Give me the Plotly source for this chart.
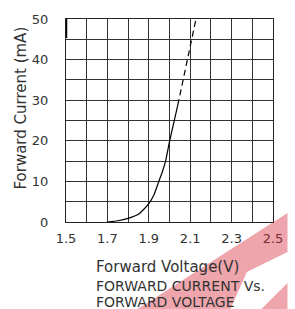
import plotly.graph_objects as go

# Data
volt_solid = [1.70, 1.75, 1.80, 1.85, 1.90, 1.925, 1.947, 1.965, 1.98, 2.00, 2.02, 2.04]
curr_solid = [0.0, 0.3, 0.9, 1.9, 4.5, 6.7, 9.8, 12.3, 14.8, 19.8, 24.3, 28.8]
volt_dash = [2.04, 2.128]
curr_dash = [28.8, 50.0]

x_tick_vals = [1.5, 1.6, 1.7, 1.8, 1.9, 2.0, 2.1, 2.2, 2.3, 2.4, 2.5]
x_tick_text = ["1.5", "", "1.7", "", "1.9", "", "2.1", "", "2.3", "", "2.5"]
y_tick_vals = [0, 5, 10, 15, 20, 25, 30, 35, 40, 45, 50]
y_tick_text = ["0", "", "10", "", "20", "", "30", "", "40", "", "50"]

W, H = 295, 309
L, R, T, B = 66, 15, 19, 87
pw, ph = W - L - R, H - T - B

def px(x, y):
    return (x - L) / pw, (H - B - y) / ph

fig = go.Figure()
fig.add_trace(go.Scatter(x=volt_solid, y=curr_solid, mode="lines", line=dict(color="black", width=1.2, shape="spline", smoothing=0.6), hoverinfo="skip"))
fig.add_trace(go.Scatter(x=volt_dash, y=curr_dash, mode="lines", line=dict(color="black", width=1.2, dash="6px,4px"), hoverinfo="skip"))

font = "DejaVu Sans"
tc = "#333"
fig.update_layout(
    width=W, height=H, showlegend=False,
    margin=dict(l=L, r=R, t=T, b=B),
    plot_bgcolor="white", paper_bgcolor="white",
    xaxis=dict(range=[1.5, 2.5], tickvals=x_tick_vals, ticktext=x_tick_text,
               showgrid=True, gridcolor="#333", gridwidth=1, zeroline=False,
               showline=True, linecolor="#222", linewidth=1, mirror=True,
               ticks="", ticklabelstandoff=4,
               tickfont=dict(family=font, size=13, color=tc)),
    yaxis=dict(range=[0, 50], tickvals=y_tick_vals, ticktext=y_tick_text,
               showgrid=True, gridcolor="#333", gridwidth=1, zeroline=False,
               showline=True, linecolor="#222", linewidth=1, mirror=True,
               ticks="", ticklabelstandoff=14,
               tickfont=dict(family=font, size=13, color=tc)),
)

# thick segment at top-left of the frame
fig.add_shape(type="line", x0=1.5, x1=1.5, y0=45.3, y1=50, xref="x", yref="y",
              line=dict(color="black", width=2.5))

# axis titles / caption
ax, ay = px(19, 108)
fig.add_annotation(text="Forward Current (mA)", x=ax, y=ay, xref="paper", yref="paper",
                   textangle=-90, showarrow=False, font=dict(family=font, size=15, color=tc),
                   xanchor="center", yanchor="middle")
for txt, yy, fs in [("Forward Voltage(V)", 267, 15), ("FORWARD CURRENT Vs.", 286, 14), ("FORWARD VOLTAGE", 302, 14)]:
    tx, ty = px(95, yy)
    fig.add_annotation(text=txt, x=tx, y=ty, xref="paper", yref="paper", showarrow=False,
                       xanchor="left", yanchor="middle", font=dict(family=font, size=fs, color=tc))

# watermark
def path(points):
    s = ""
    for i, (a, b) in enumerate(points):
        u, v = px(a, b)
        s += ("M" if i == 0 else "L") + f"{u:.4f},{v:.4f} "
    return s + "Z"

wm = "rgba(214,40,57,0.42)"
fig.add_shape(type="path", path=path([(140, 309), (295, 213), (295, 252), (253, 272), (236, 309)]),
              xref="paper", yref="paper", fillcolor=wm, line=dict(width=0), layer="above")
fig.add_shape(type="path", path=path([(268, 309), (295, 283), (295, 309)]),
              xref="paper", yref="paper", fillcolor=wm, line=dict(width=0), layer="above")

fig.write_html("out.html", config={"displayModeBar": False},
               post_script="document.body.style.margin='0';")
